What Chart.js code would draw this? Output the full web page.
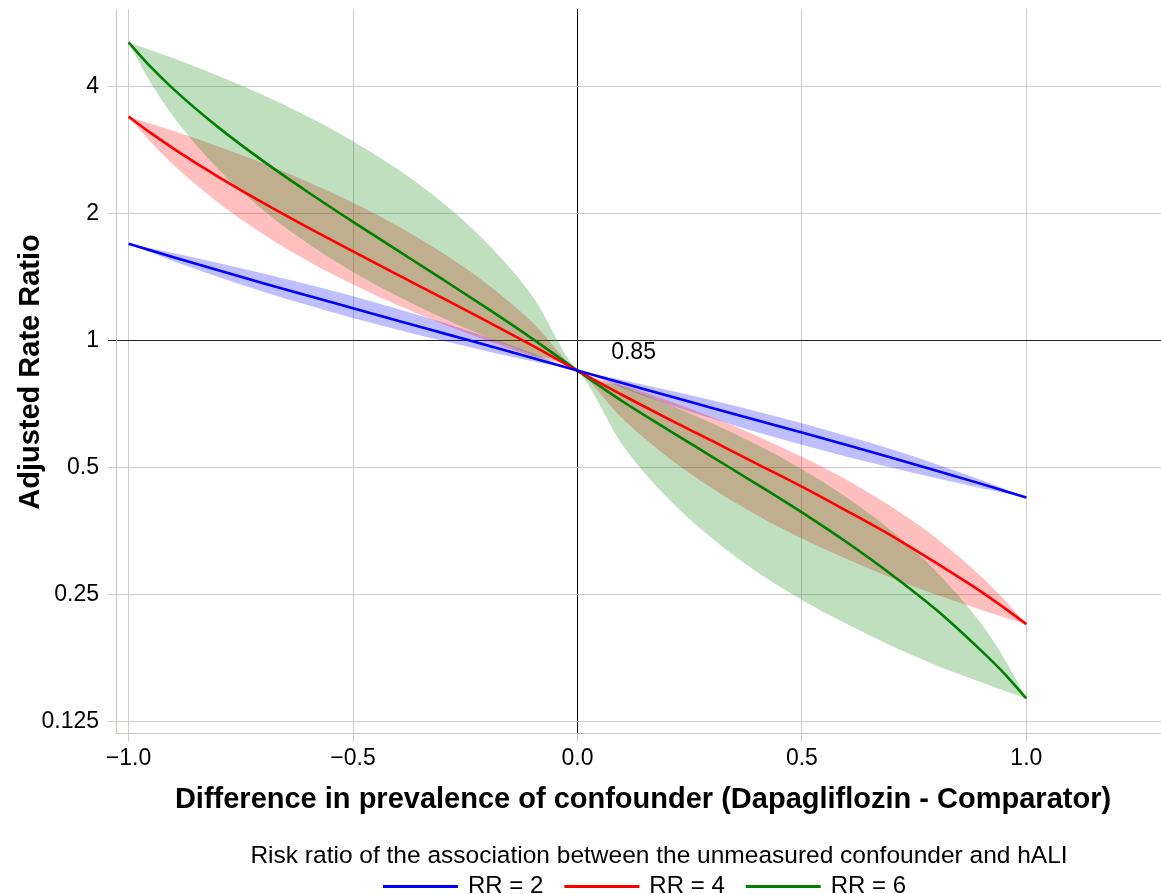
<!DOCTYPE html>
<html>
<head>
<meta charset="utf-8">
<script src="https://cdn.jsdelivr.net/npm/chart.js@4.4.1/dist/chart.umd.min.js"></script>
<style>
  html, body { margin: 0; padding: 0; background: #fff; }
  #wrap { width: 1161px; height: 894px; }
</style>
</head>
<body>
<div id="wrap"><canvas id="chart" width="1161" height="894"></canvas></div>
<script>
// difference in prevalence of the confounder (x values)
const prevDiff = [-1, -0.95, -0.9, -0.8, -0.7, -0.6, -0.5, -0.4, -0.3, -0.2, -0.1, 0,
  0.1, 0.2, 0.3, 0.4, 0.5, 0.6, 0.7, 0.8, 0.9, 0.95, 1];

// RR = 2
const rr2Mid = [1.700, 1.638, 1.579, 1.470, 1.370, 1.279, 1.195, 1.116, 1.043, 0.975, 0.911, 0.850,
  0.794, 0.742, 0.693, 0.648, 0.606, 0.566, 0.528, 0.492, 0.458, 0.441, 0.425];
const rr2Upper = [1.700, 1.658, 1.615, 1.530, 1.445, 1.360, 1.275, 1.190, 1.105, 1.020, 0.935, 0.850,
  0.808, 0.765, 0.723, 0.680, 0.638, 0.595, 0.553, 0.510, 0.468, 0.446, 0.425];
const rr2Lower = [1.700, 1.619, 1.545, 1.417, 1.308, 1.214, 1.133, 1.063, 1.000, 0.944, 0.895, 0.850,
  0.773, 0.708, 0.654, 0.607, 0.567, 0.531, 0.500, 0.472, 0.447, 0.436, 0.425];

// RR = 4
const rr4Mid = [3.400, 3.107, 2.857, 2.448, 2.123, 1.855, 1.629, 1.433, 1.262, 1.110, 0.974, 0.850,
  0.744, 0.655, 0.579, 0.511, 0.451, 0.395, 0.345, 0.297, 0.254, 0.233, 0.213];
const rr4Upper = [3.400, 3.273, 3.145, 2.890, 2.635, 2.380, 2.125, 1.870, 1.615, 1.360, 1.105, 0.850,
  0.786, 0.723, 0.659, 0.595, 0.531, 0.468, 0.404, 0.340, 0.276, 0.244, 0.213];
const rr4Lower = [3.400, 2.957, 2.615, 2.125, 1.790, 1.545, 1.360, 1.214, 1.097, 1.000, 0.919, 0.850,
  0.654, 0.531, 0.447, 0.386, 0.340, 0.304, 0.274, 0.250, 0.230, 0.221, 0.213];

// RR = 6
const rr6Mid = [5.100, 4.454, 3.952, 3.207, 2.667, 2.251, 1.915, 1.636, 1.398, 1.192, 1.011, 0.850,
  0.719, 0.617, 0.531, 0.457, 0.392, 0.333, 0.279, 0.230, 0.184, 0.163, 0.142];
const rr6Upper = [5.100, 4.888, 4.675, 4.250, 3.825, 3.400, 2.975, 2.550, 2.125, 1.700, 1.275, 0.850,
  0.779, 0.708, 0.638, 0.567, 0.496, 0.425, 0.354, 0.283, 0.213, 0.177, 0.142];
const rr6Lower = [5.100, 4.080, 3.400, 2.550, 2.040, 1.700, 1.457, 1.275, 1.133, 1.020, 0.927, 0.850,
  0.567, 0.425, 0.340, 0.283, 0.243, 0.213, 0.189, 0.170, 0.155, 0.148, 0.142];

const xTicks = [-1, -0.5, 0, 0.5, 1];
const xTickLabels = ["\u22121.0", "\u22120.5", "0.0", "0.5", "1.0"];
const yTicks = [0.125, 0.25, 0.5, 1, 2, 4];
const yTickLabels = ["0.125", "0.25", "0.5", "1", "2", "4"];

const seriesNames = ["RR = 2", "RR = 4", "RR = 6"];
const observedLabel = "0.85";
const observedLabelPos = [0.125, 0.937];

const xTitle = "Difference in prevalence of confounder (Dapagliflozin - Comparator)";
const yTitle = "Adjusted Rate Ratio";
const legendTitle = "Risk ratio of the association between the unmeasured confounder and hALI";

const colors = { blue: "#0000ff", red: "#ff0000", green: "#008000" };
const bandColors = {
  blue: "rgba(0,0,255,0.25)",
  red: "rgba(255,0,0,0.25)",
  green: "rgba(0,128,0,0.25)"
};
const FONT = '"Liberation Sans", Arial, sans-serif';

function pts(ys) {
  return prevDiff.map((x, i) => ({ x: x, y: ys[i] }));
}

function bandSets(upper, lower, color, order) {
  const common = {
    borderWidth: 0,
    borderColor: "rgba(0,0,0,0)",
    pointRadius: 0,
    cubicInterpolationMode: "monotone",
    order: order
  };
  return [
    { ...common, data: pts(upper), fill: "+1", backgroundColor: color },
    { ...common, data: pts(lower), fill: false }
  ];
}

function lineSet(ys, color) {
  return {
    data: pts(ys),
    borderColor: color,
    borderWidth: 2.6,
    pointRadius: 0,
    fill: false,
    cubicInterpolationMode: "monotone",
    order: 0
  };
}

const textPlugin = {
  id: "texts",
  afterDraw(chart) {
    const ctx = chart.ctx;
    const xs = chart.scales.x, ys = chart.scales.y;
    ctx.save();
    ctx.fillStyle = "#000";
    ctx.textAlign = "center";
    ctx.textBaseline = "middle";

    ctx.font = "23px " + FONT;
    ctx.fillText(observedLabel, xs.getPixelForValue(observedLabelPos[0]), ys.getPixelForValue(observedLabelPos[1]));

    ctx.font = "bold 29px " + FONT;
    ctx.fillText(xTitle, 643, 800);
    ctx.save();
    ctx.translate(31, 372);
    ctx.rotate(-Math.PI / 2);
    ctx.fillText(yTitle, 0, 0);
    ctx.restore();

    // legend
    ctx.font = "24.5px " + FONT;
    ctx.fillText(legendTitle, 659, 856);
    ctx.font = "24px " + FONT;
    ctx.textAlign = "left";
    const lineCols = [colors.blue, colors.red, colors.green];
    let lx = 383;
    const ly = 886.5;
    seriesNames.forEach((name, i) => {
      ctx.strokeStyle = lineCols[i];
      ctx.lineWidth = 3;
      ctx.beginPath();
      ctx.moveTo(lx, ly);
      ctx.lineTo(lx + 75, ly);
      ctx.stroke();
      ctx.fillText(name, lx + 85, ly);
      lx += 85 + ctx.measureText(name).width + 21;
    });
    ctx.restore();
  }
};

const gridGrey = "#cccccc";
const borderTan = "#cdc6bc";

new Chart(document.getElementById("chart").getContext("2d"), {
  type: "line",
  data: {
    datasets: [
      ...bandSets(rr2Upper, rr2Lower, bandColors.blue, 3),
      ...bandSets(rr4Upper, rr4Lower, bandColors.red, 2),
      ...bandSets(rr6Upper, rr6Lower, bandColors.green, 1),
      lineSet(rr2Mid, colors.blue),
      lineSet(rr4Mid, colors.red),
      lineSet(rr6Mid, colors.green)
    ]
  },
  options: {
    responsive: false,
    animation: false,
    layout: { padding: { top: 9, right: 0, bottom: 0, left: 0 } },
    plugins: {
      legend: { display: false },
      tooltip: { enabled: false }
    },
    scales: {
      x: {
        type: "linear",
        min: -1.028,
        max: 1.3,
        afterBuildTicks: s => { s.ticks = xTicks.map(v => ({ value: v })); },
        afterFit: s => {
          s.height = 160.3;
          s.paddingLeft = 0;
          s.paddingRight = 0;
        },
        ticks: {
          callback: (v, i) => xTickLabels[i],
          color: "#000",
          font: { size: 23, family: FONT },
          padding: 3,
          maxRotation: 0
        },
        grid: {
          color: c => (c.tick && c.tick.value === 0 ? "#000" : gridGrey),
          tickColor: gridGrey,
          tickLength: 8,
          lineWidth: 1
        },
        border: { display: true, color: borderTan, width: 1 }
      },
      y: {
        type: "logarithmic",
        min: 0.1171,
        max: 6.12,
        afterBuildTicks: s => { s.ticks = yTicks.map(v => ({ value: v })); },
        afterFit: s => {
          s.width = 116;
          s.paddingTop = 0;
          s.paddingBottom = 0;
        },
        ticks: {
          callback: (v, i) => yTickLabels[i],
          color: "#000",
          font: { size: 23, family: FONT },
          padding: 9
        },
        grid: {
          color: c => (c.tick && c.tick.value === 1 ? "#222" : gridGrey),
          tickColor: c => (c.tick && c.tick.value === 1 ? "#222" : gridGrey),
          tickLength: 8,
          lineWidth: 1
        },
        border: { display: true, color: borderTan, width: 1 }
      }
    }
  },
  plugins: [textPlugin]
});
</script>
</body>
</html>
